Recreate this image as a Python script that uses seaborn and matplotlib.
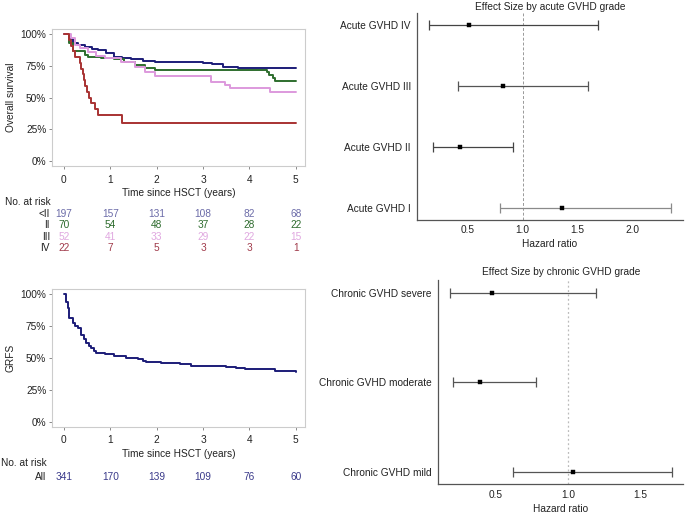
import numpy as np
import pandas as pd
import matplotlib
matplotlib.use("Agg")
import matplotlib.pyplot as plt
import matplotlib.transforms as mtransforms
import seaborn as sns

sns.set_theme(style="white")
plt.rcParams['font.family'] = ['Liberation Sans', 'DejaVu Sans']
FS = 7.3
plt.rcParams['font.size'] = FS

# ---------------- Data ----------------
# Overall survival by acute GVHD grade (step times in years, survival after step)
os_lt2_time = [0, 0.10, 0.19, 0.30, 0.45, 0.60, 0.73, 0.90, 1.09, 1.25, 1.45, 1.70, 1.96, 2.50, 2.99, 3.20, 3.43, 3.75, 4.29, 5.0]
os_lt2_surv = [1.0, 0.96, 0.927, 0.915, 0.90, 0.885, 0.874, 0.85, 0.82, 0.81, 0.80, 0.79, 0.78, 0.777, 0.77, 0.762, 0.743, 0.735, 0.73, 0.73]

os_ii_time = [0, 0.12, 0.19, 0.45, 0.52, 0.80, 1.09, 1.30, 1.53, 1.74, 1.96, 4.33, 4.38, 4.43, 4.50, 4.56, 5.0]
os_ii_surv = [1.0, 0.93, 0.866, 0.835, 0.82, 0.81, 0.80, 0.78, 0.76, 0.73, 0.717, 0.717, 0.70, 0.68, 0.655, 0.63, 0.63]

os_iii_time = [0, 0.16, 0.23, 0.34, 0.52, 0.70, 0.88, 1.24, 1.53, 1.74, 1.96, 3.18, 3.47, 3.59, 4.45, 5.0]
os_iii_surv = [1.0, 0.966, 0.91, 0.89, 0.86, 0.83, 0.81, 0.78, 0.74, 0.70, 0.673, 0.625, 0.60, 0.578, 0.547, 0.547]

os_iv_time = [0, 0.12, 0.15, 0.20, 0.25, 0.34, 0.37, 0.41, 0.43, 0.45, 0.50, 0.54, 0.59, 0.68, 0.73, 1.26, 5.0]
os_iv_surv = [1.0, 0.955, 0.909, 0.864, 0.818, 0.773, 0.727, 0.682, 0.636, 0.591, 0.545, 0.50, 0.455, 0.409, 0.364, 0.303, 0.303]

os_groups = ['<II', 'II', 'III', 'IV']
os_colors = ['#1c1c78', '#2e6e2e', '#dd99dd', '#a83232']
os_text_colors = ['#6b6ba8', '#2d6b2d', '#e0a8e0', '#a03a4a']

risk_times = [0, 1, 2, 3, 4, 5]
risk_lt2 = [197, 157, 131, 108, 82, 68]
risk_ii = [70, 54, 48, 37, 28, 22]
risk_iii = [52, 41, 33, 29, 22, 15]
risk_iv = [22, 7, 5, 3, 3, 1]

# GRFS
grfs_time = [0, 0.04, 0.09, 0.12, 0.19, 0.25, 0.30, 0.375, 0.43, 0.48, 0.54, 0.59, 0.65, 0.70, 0.88,
             1.09, 1.35, 1.60, 1.70, 1.78, 2.10, 2.50, 2.75, 3.18, 3.50, 3.72, 3.90, 4.51, 4.55, 4.83, 5.0]
grfs_surv = [1.0, 0.94, 0.888, 0.81, 0.77, 0.75, 0.73, 0.68, 0.645, 0.614, 0.59, 0.574, 0.555, 0.54, 0.527,
             0.514, 0.50, 0.49, 0.478, 0.465, 0.457, 0.452, 0.439, 0.433, 0.428, 0.423, 0.413, 0.413, 0.40, 0.397, 0.39]
risk_all = [341, 170, 139, 109, 76, 60]

# Forest plots
acute_labels = ['Acute GVHD I', 'Acute GVHD II', 'Acute GVHD III', 'Acute GVHD IV']
acute_hr = [1.36, 0.43, 0.82, 0.51]
acute_lo = [0.79, 0.185, 0.41, 0.15]
acute_hi = [2.35, 0.91, 1.60, 1.69]

chronic_labels = ['Chronic GVHD mild', 'Chronic GVHD moderate', 'Chronic GVHD severe']
chronic_hr = [1.03, 0.386, 0.47]
chronic_lo = [0.62, 0.20, 0.178]
chronic_hi = [1.72, 0.78, 1.19]

# ---------------- Figure ----------------
W, H = 685, 517
fig = plt.figure(figsize=(W / 100, H / 100), dpi=100)


def fx(px):
    return px / W


def fy(py):
    return 1 - py / H


def add_axes_px(left, top, right, bottom):
    return fig.add_axes([fx(left), fy(bottom), fx(right) - fx(left), (bottom - top) / H])


def style_km(ax):
    ax.set_xlim(-0.25, 5.2)
    ax.set_ylim(-0.04, 1.04)
    for s in ax.spines.values():
        s.set_color('#cccccc')
        s.set_linewidth(0.8)
    ax.set_xticks(risk_times)
    ax.set_xticklabels([str(t) for t in risk_times])
    ax.set_yticks([0, 0.25, 0.5, 0.75, 1.0])
    ax.set_yticklabels(['0%', '25%', '50%', '75%', '100%'])
    ax.tick_params(axis='both', which='both', direction='out', length=2.2, width=0.6,
                   color='#777777', labelcolor='#222222', labelsize=FS, bottom=True, left=True)
    ax.tick_params(axis='x', pad=4.0)
    ax.tick_params(axis='y', pad=2.2)
    ax.set_xlabel('Time since HSCT (years)', fontsize=FS, color='#222222', labelpad=2.3)
    ax.grid(False)


# --- Overall survival ---
ax1 = add_axes_px(52.3, 28.9, 305, 166.4)
frames = []
for g, t, s in zip(os_groups,
                   [os_lt2_time, os_ii_time, os_iii_time, os_iv_time],
                   [os_lt2_surv, os_ii_surv, os_iii_surv, os_iv_surv]):
    frames.append(pd.DataFrame({'time': t, 'surv': s, 'group': g}))
os_df = pd.concat(frames, ignore_index=True)
sns.lineplot(data=os_df, x='time', y='surv', hue='group', hue_order=os_groups,
             palette=os_colors, estimator=None, drawstyle='steps-post', linewidth=1.4,
             legend=False, ax=ax1)
style_km(ax1)
ax1.set_ylabel('Overall survival', fontsize=FS, color='#222222')
ax1.yaxis.set_label_coords(-0.145, 0.5)

trans1 = mtransforms.blended_transform_factory(ax1.transData, fig.transFigure)
fig.text(fx(5), fy(202), 'No. at risk', ha='left', va='center', fontsize=FS, color='#222222')
row_y = [214, 225.3, 236.7, 248]
for g, counts, col, yy in zip(os_groups, [risk_lt2, risk_ii, risk_iii, risk_iv], os_text_colors, row_y):
    fig.text(fx(50), fy(yy), g, ha='right', va='center', fontsize=FS, color='#222222')
    for t, c in zip(risk_times, counts):
        ax1.text(t, fy(yy), str(c), ha='center', va='center', fontsize=FS, color=col,
                 transform=trans1, clip_on=False)

# --- GRFS ---
ax2 = add_axes_px(52.3, 288.9, 305, 426.8)
grfs_df = pd.DataFrame({'time': grfs_time, 'surv': grfs_surv})
sns.lineplot(data=grfs_df, x='time', y='surv', color='#1c1c78', estimator=None,
             drawstyle='steps-post', linewidth=1.4, ax=ax2)
style_km(ax2)
ax2.set_ylabel('GRFS', fontsize=FS, color='#222222')
ax2.yaxis.set_label_coords(-0.145, 0.5)

trans2 = mtransforms.blended_transform_factory(ax2.transData, fig.transFigure)
fig.text(fx(1), fy(463.3), 'No. at risk', ha='left', va='center', fontsize=FS, color='#222222')
fig.text(fx(46), fy(476.7), 'All', ha='right', va='center', fontsize=FS, color='#222222')
for t, c in zip(risk_times, risk_all):
    ax2.text(t, fy(476.7), str(c), ha='center', va='center', fontsize=FS, color='#3a3a8a',
             transform=trans2, clip_on=False)


# --- Forest plots ---
def forest(ax, labels, hr, lo, hi, colors, xlim, ylim, xticks, title, vline_style, title_pad):
    ypos = list(range(1, len(labels) + 1))
    for y, h, l, u, c in zip(ypos, hr, lo, hi, colors):
        ax.errorbar(h, y, xerr=[[h - l], [u - h]], fmt='none', ecolor=c, elinewidth=0.9,
                    capsize=3.6, capthick=0.9, zorder=2)
    fdf = pd.DataFrame({'hr': hr, 'y': ypos})
    sns.scatterplot(data=fdf, x='hr', y='y', marker='s', s=8, color='black',
                    edgecolor='black', linewidth=0.3, ax=ax, zorder=3)
    ax.axvline(1.0, **vline_style)
    ax.set_xlim(*xlim)
    ax.set_ylim(*ylim)
    ax.set_yticks(ypos)
    ax.set_yticklabels(labels)
    ax.set_xticks(xticks)
    ax.set_xticklabels([f'{v:.1f}' for v in xticks])
    ax.set_ylabel('')
    ax.set_xlabel('Hazard ratio', fontsize=FS, color='#222222', labelpad=3)
    ax.set_title(title, fontsize=FS, color='#222222', pad=title_pad)
    for side in ['top', 'right']:
        ax.spines[side].set_visible(False)
    for side in ['left', 'bottom']:
        ax.spines[side].set_color('#555555')
        ax.spines[side].set_linewidth(0.9)
    ax.tick_params(axis='both', length=0, labelsize=FS, labelcolor='#222222')
    ax.tick_params(axis='y', pad=4.7)
    ax.tick_params(axis='x', pad=3.8)
    ax.grid(False)


ax3 = add_axes_px(417.3, 13.3, 682.7, 220)
forest(ax3, acute_labels, acute_hr, acute_lo, acute_hi,
       ['#8a8a8a', '#444444', '#555555', '#444444'],
       (0.04, 2.46), (0.8, 4.2), [0.5, 1.0, 1.5, 2.0],
       'Effect Size by acute GVHD grade',
       dict(color='#999999', linestyle=(0, (3, 2)), linewidth=0.7, zorder=1), 2.5)

ax4 = add_axes_px(438.3, 280, 683.3, 484.3)
forest(ax4, chronic_labels, chronic_hr, chronic_lo, chronic_hi,
       ['#555555', '#555555', '#555555'],
       (0.10, 1.797), (0.86, 3.14), [0.5, 1.0, 1.5],
       'Effect Size by chronic GVHD grade',
       dict(color='#bbbbbb', linestyle=(0, (1.5, 2)), linewidth=0.9, zorder=1), 3.8)

fig.savefig('out.png', dpi=100)
